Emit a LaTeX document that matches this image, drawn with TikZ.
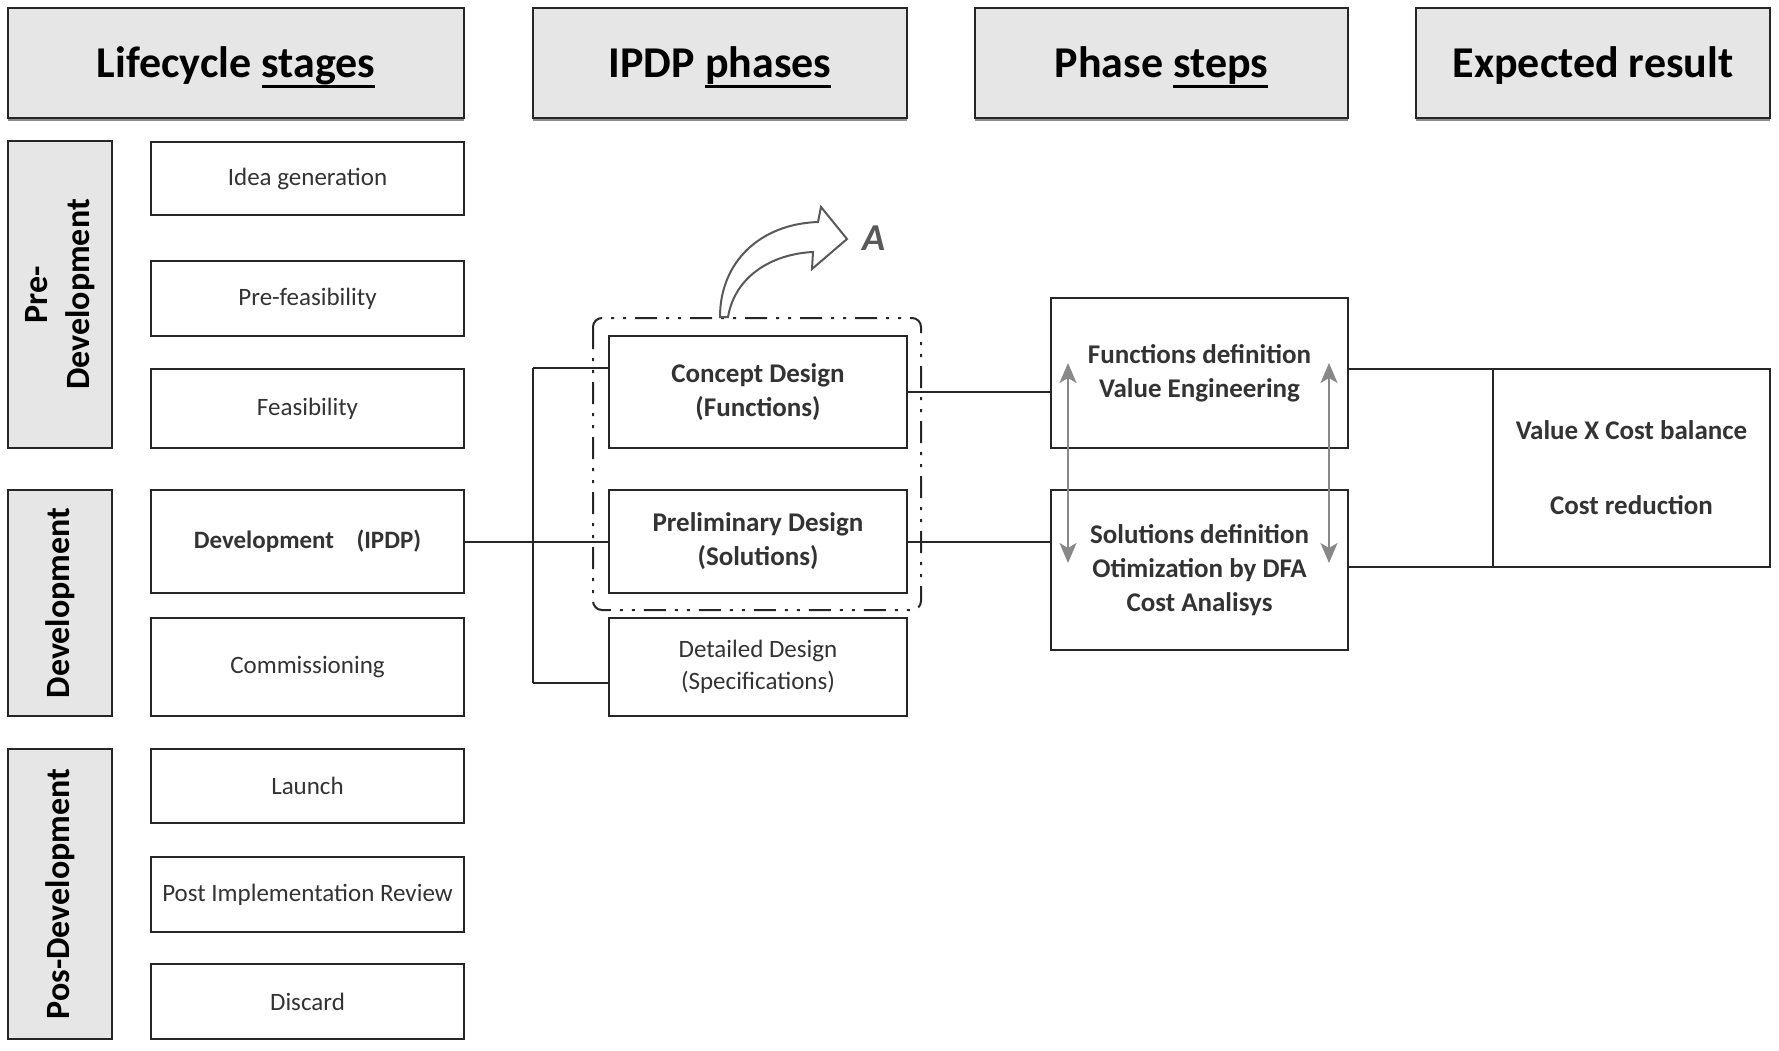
\documentclass[tikz,border=0pt]{standalone}
\usepackage{fontspec}
\setmainfont{Carlito}
\usetikzlibrary{arrows.meta}
\definecolor{hdrgray}{HTML}{E6E6E6}
\definecolor{txtgray}{HTML}{333333}
\definecolor{arrgray}{HTML}{888888}
\definecolor{edgec}{HTML}{262626}
\newcommand\hdrul[1]{\leavevmode\setbox0=\hbox{#1}\rlap{\rule[-10pt]{\wd0}{3.2pt}}\box0}
\begin{document}
\begin{tikzpicture}[x=1pt,y=-1pt,
  every node/.style={inner sep=0pt, outer sep=0pt},
  hdrbox/.style={draw=edgec, line width=2pt, fill=hdrgray, text=black,
    text height=30pt, text depth=0pt,
    font=\fontsize{44}{50}\selectfont\bfseries},
  hdrshadow/.style={draw=black!45, line width=2pt},
  grpbox/.style={draw=edgec, line width=2pt, fill=hdrgray, rotate=90, align=center,
    text=black, font=\fontsize{34}{42}\selectfont\bfseries},
  stagebox/.style={draw=edgec, line width=2pt, fill=white, text=txtgray, align=center,
    font=\fontsize{25}{32}\selectfont},
  boldbox/.style={draw=edgec, line width=2pt, fill=white, text=txtgray, align=center,
    font=\fontsize{27}{34}\selectfont\bfseries},
  conn/.style={draw=edgec, line width=2pt},
  dblarrow/.style={draw=arrgray, line width=2pt, {Stealth[length=20pt,width=17pt,inset=5pt]}-{Stealth[length=20pt,width=17pt,inset=5pt]}},
]
\useasboundingbox[fill=white] (0,0) rectangle (1779,1051);

% headers
\node[hdrbox, minimum width=456, minimum height=110] (h1) at (236,63) {Lifecycle \hdrul{stages}};
\node[hdrbox, minimum width=374, minimum height=110] (h2) at (720,63) {IPDP \hdrul{phases}};
\node[hdrbox, minimum width=373, minimum height=110] (h3) at (1161.5,63) {Phase \hdrul{steps}};
\node[hdrbox, minimum width=354, minimum height=110] (h4) at (1593,63) {Expected result};
\foreach \h in {h1,h2,h3,h4}{
  \draw[hdrshadow] ([yshift=-2.5pt]\h.south west) -- ([yshift=-2.5pt]\h.south east);
}

% group boxes
\node[grpbox, minimum width=307, minimum height=104] (gpre) at (60,294.5) {Pre-\\Development};
\node[grpbox, minimum width=226, minimum height=104] (gdev) at (60,603) {Development};
\node[grpbox, minimum width=290, minimum height=104] (gpos) at (60,894) {Pos-Development};

% stage boxes
\node[stagebox, minimum width=313, minimum height=73] (idea) at (307.5,178.5) {Idea generation};
\node[stagebox, minimum width=313, minimum height=75] (prefeas) at (307.5,298.5) {Pre-feasibility};
\node[stagebox, minimum width=313, minimum height=79] (feas) at (307.5,408.5) {Feasibility};
\node[stagebox, minimum width=313, minimum height=103, font=\fontsize{25}{32}\selectfont\bfseries] (devipdp) at (307.5,541.5) {Development\hspace{0.9em}(IPDP)};
\node[stagebox, minimum width=313, minimum height=98] (comm) at (307.5,667) {Commissioning};
\node[stagebox, minimum width=313, minimum height=74] (launch) at (307.5,786) {Launch};
\node[stagebox, minimum width=313, minimum height=75] (pir) at (307.5,894.5) {Post Implementation Review};
\node[stagebox, minimum width=313, minimum height=75] (discard) at (307.5,1001.5) {Discard};

% IPDP phases
\node[boldbox, minimum width=298, minimum height=112] (concept) at (758,392) {Concept Design\\(Functions)};
\node[boldbox, minimum width=298, minimum height=103] (prelim) at (758,541.5) {Preliminary Design\\(Solutions)};
\node[stagebox, minimum width=298, minimum height=98] (detailed) at (758,667) {Detailed Design\\(Specifications)};

% dash-dot frame
\draw[draw=edgec, line width=2pt, rounded corners=9pt,
  dash pattern=on 22pt off 9pt on 3pt off 9pt on 3pt off 9pt] (593,318) rectangle (921,610);

% bracket connectors
\coordinate (bt) at (533,368);
\coordinate (bb) at (533,683);
\draw[conn] (devipdp.east) -- (prelim.west);
\draw[conn] (bt) -- (bt -| concept.west);
\draw[conn] (bt) -- (bb);
\draw[conn] (bb) -- (bb -| detailed.west);

% phase steps
\node[boldbox, minimum width=297, minimum height=150] (func) at (1199.5,373) {Functions definition\\Value Engineering};
\node[boldbox, minimum width=297, minimum height=160] (sol) at (1199.5,570) {Solutions definition\\Otimization by DFA\\Cost Analisys};
\draw[conn] (concept.east) -- (concept.east -| func.west);
\draw[conn] (prelim.east) -- (prelim.east -| sol.west);

% expected result
\node[boldbox, minimum width=277, minimum height=198, font=\fontsize{27}{75}\selectfont\bfseries] (expect) at (1631.5,468) {Value X Cost balance\\Cost reduction};
\draw[conn] (expect.north west -| func.east) -- (expect.north west);
\draw[conn] (expect.south west -| sol.east) -- (expect.south west);

% double arrows
\coordinate (a1t) at (1068,363);
\coordinate (a1b) at (1068,563);
\coordinate (a2t) at (1329,363);
\coordinate (a2b) at (1329,563);
\draw[dblarrow] (a1t) -- (a1b);
\draw[dblarrow] (a2t) -- (a2b);

% hollow curved arrow
\draw[draw=black!65, line width=2pt, fill=white, line join=miter]
  (720,317) .. controls (720,262) and (760,224) .. (818,222)
  -- (821,207) -- (847,239) -- (812,269) -- (813,252)
  .. controls (772,254) and (735,276) .. (728,317) -- cycle;
\node[text=black!65, font=\fontsize{38}{40}\selectfont\bfseries\itshape] (alabel) at (874,238) {A};
\end{tikzpicture}
\end{document}
